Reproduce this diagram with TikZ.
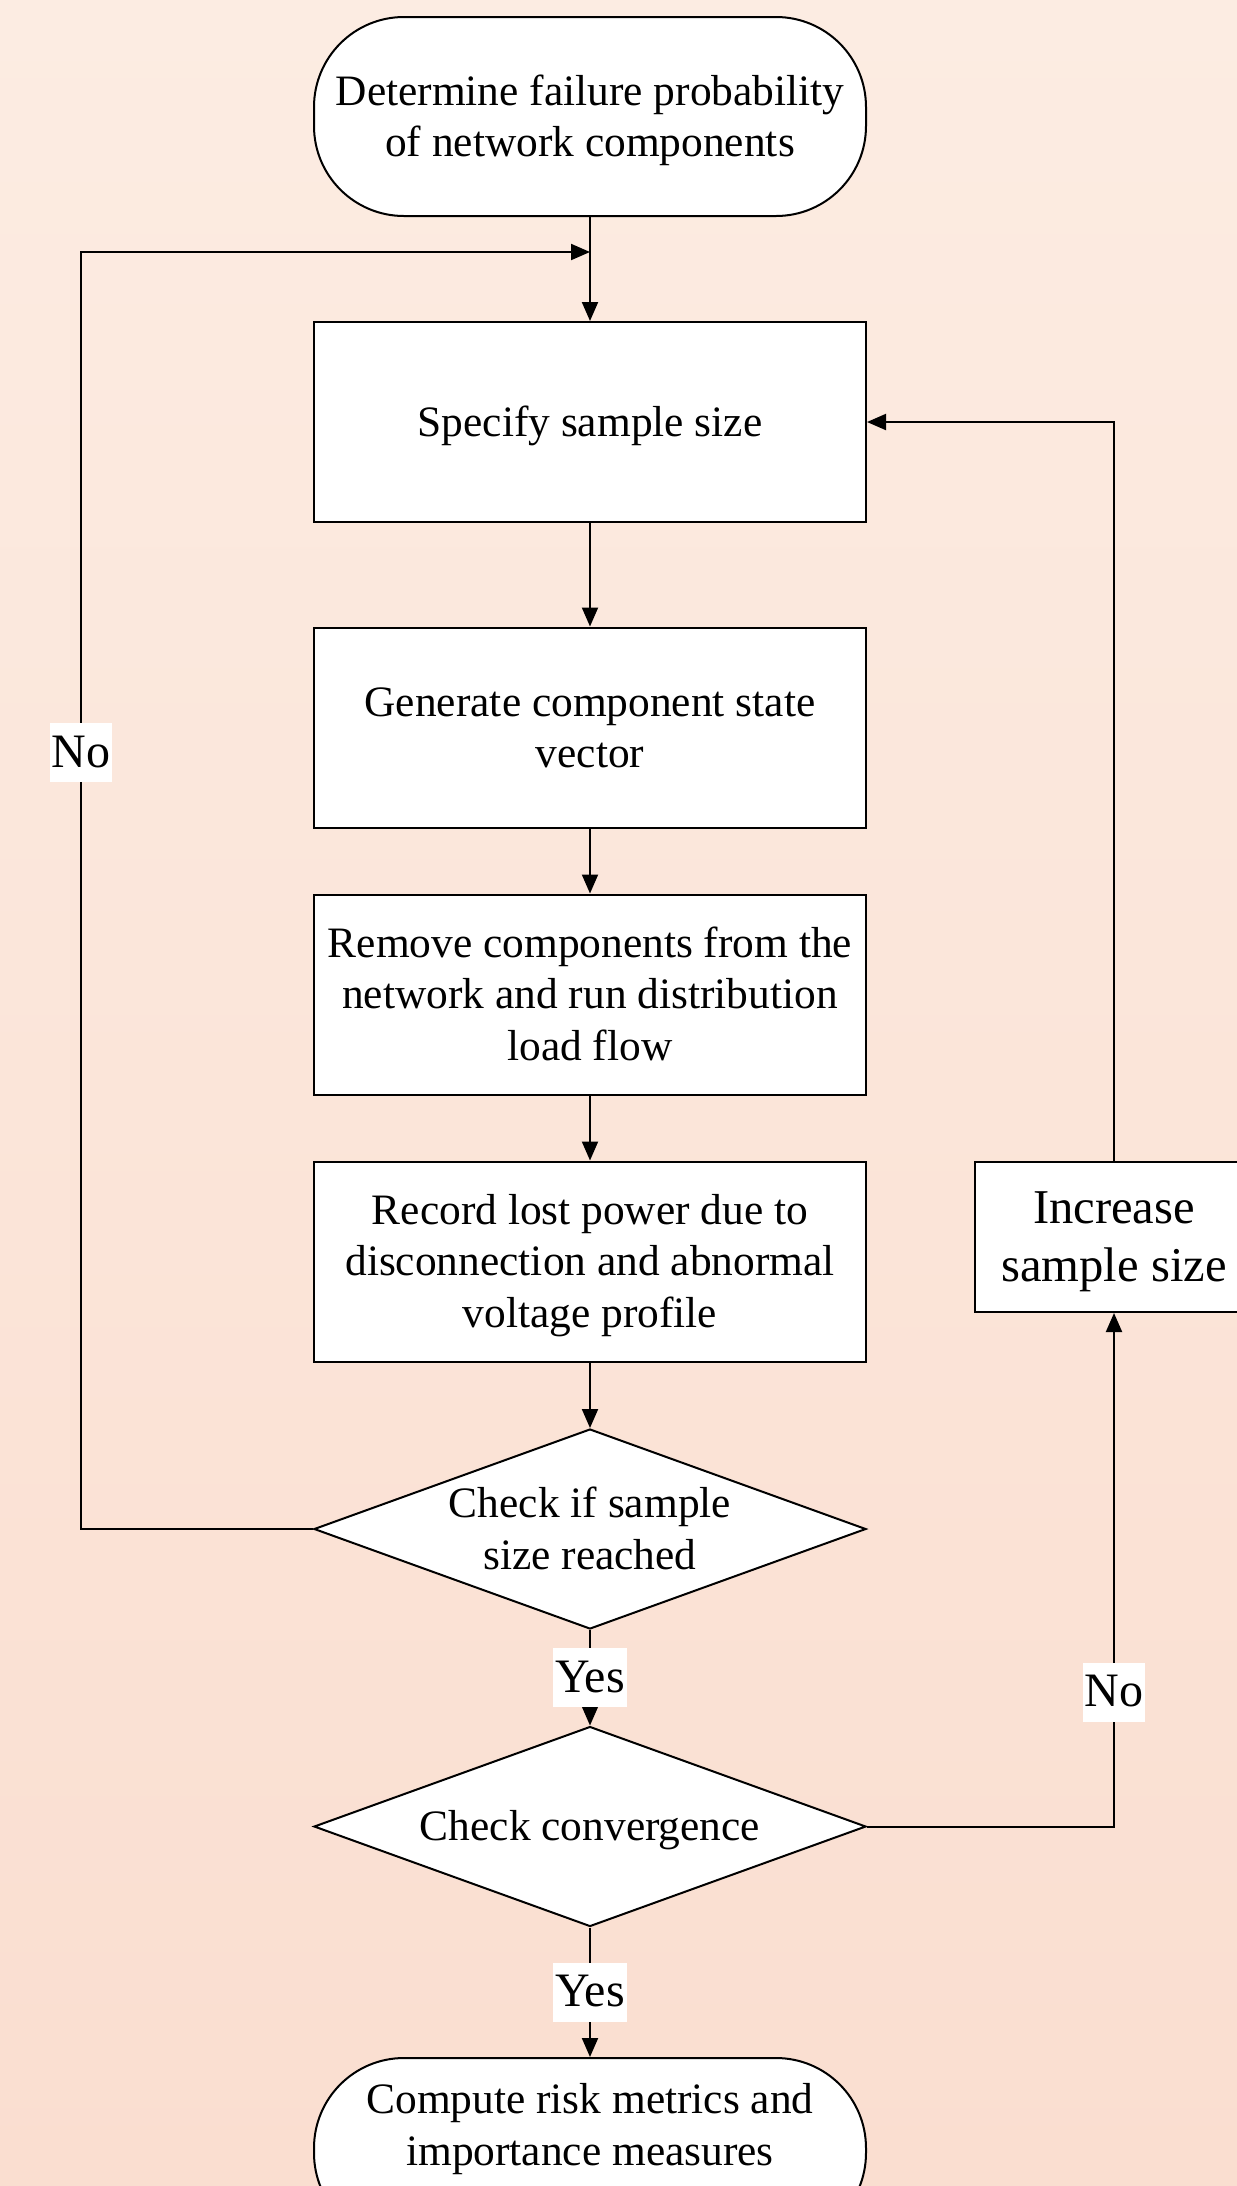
\documentclass[tikz,border=0pt]{standalone}
\usepackage{fontspec}
\setmainfont{Liberation Serif}
\usetikzlibrary{shapes.geometric,arrows.meta}
\definecolor{bgtop}{RGB}{252,236,226}
\definecolor{bgbot}{RGB}{250,222,208}
\newcommand{\tp}{\rule{0pt}{19.3pt}}
\newcommand{\bt}{\rule[-5pt]{0pt}{0pt}}
\newcommand{\tpb}{\rule{0pt}{21.6pt}}
\newcommand{\btb}{\rule[-6.2pt]{0pt}{0pt}}
\begin{document}
\begin{tikzpicture}[x=0.5pt,y=-0.5pt,
  base/.style={draw=black,fill=white,line width=1pt,align=center,font=\fontsize{21.7pt}{25.8pt}\selectfont,inner sep=0pt},
  procbox/.style={base,rectangle,minimum width=276pt,minimum height=100pt},
  term/.style={base,rectangle,rounded corners=45pt,minimum width=276pt,minimum height=99.5pt},
  decision/.style={base,diamond,shape aspect=2.76,inner sep=-5pt,minimum width=276pt,minimum height=100pt},
  bigbox/.style={draw=black,fill=white,line width=1pt,align=center,inner sep=0pt,rectangle,
    minimum width=139pt,minimum height=75pt,font=\fontsize{24.3pt}{29pt}\selectfont},
  conn/.style={line width=1pt,-{Triangle[length=9.5pt,width=8pt]}},
  lbl/.style={fill=white,inner xsep=1pt,inner ysep=0pt,text height=22pt,text depth=7.5pt,font=\fontsize{24pt}{29pt}\selectfont}
]
\useasboundingbox (0,0) rectangle (1237,2186);
\shade[top color=bgtop,bottom color=bgbot] (0,0) rectangle (1237,2186);
\begin{scope}
\clip (0,0) rectangle (1237,2186);
\node[term] (start) at (590,116.5) {\tp Determine failure probability\\of network components\bt};
\node[procbox] (spec) at (590,422) {\tp Specify sample size\bt};
\node[procbox] (gen) at (590,727.5) {\tp Generate component state\\vector\bt};
\node[procbox] (rem) at (590,994.5) {\tp Remove components from the\\network and run distribution\\load flow\bt};
\node[procbox] (rec) at (590,1261.5) {\tp Record lost power due to\\disconnection and abnormal\\voltage profile\bt};
\node[decision] (chk) at (590,1529) {\tp Check if sample\\size reached\bt};
\node[decision] (conv) at (590,1826.5) {\tp Check convergence\bt};
\node[term,minimum height=92.5pt] (end) at (590,2150.5) {Compute risk metrics and\\importance measures\\\mbox{}};
\node[bigbox] (inc) at (1114,1237) {\tpb Increase\\sample size\btb};

\coordinate (lt) at (81,252);
\coordinate (lb) at (81,1529);
\coordinate (merge) at (590,252);
\coordinate (rb) at (1114,1826.5);
\coordinate (rt) at (1114,422);

\draw[conn] (start) -- (spec);
\draw[conn] (spec) -- (gen);
\draw[conn] (gen) -- (rem);
\draw[conn] (rem) -- (rec);
\draw[conn] (rec) -- (chk);
\draw[conn] (chk) -- node[lbl]{Yes} (conv);
\draw[conn] (conv) -- node[lbl]{Yes} (end);
\draw[conn] (chk.west) -- (lb) -- node[lbl,pos=0.608]{No} (lt) -- (merge);
\draw[conn] (conv.east) -- (rb) -- node[lbl,pos=0.261]{No} (inc.south);
\draw[conn] (inc.north) -- (rt) -- (spec.east);
\end{scope}
\end{tikzpicture}
\end{document}
